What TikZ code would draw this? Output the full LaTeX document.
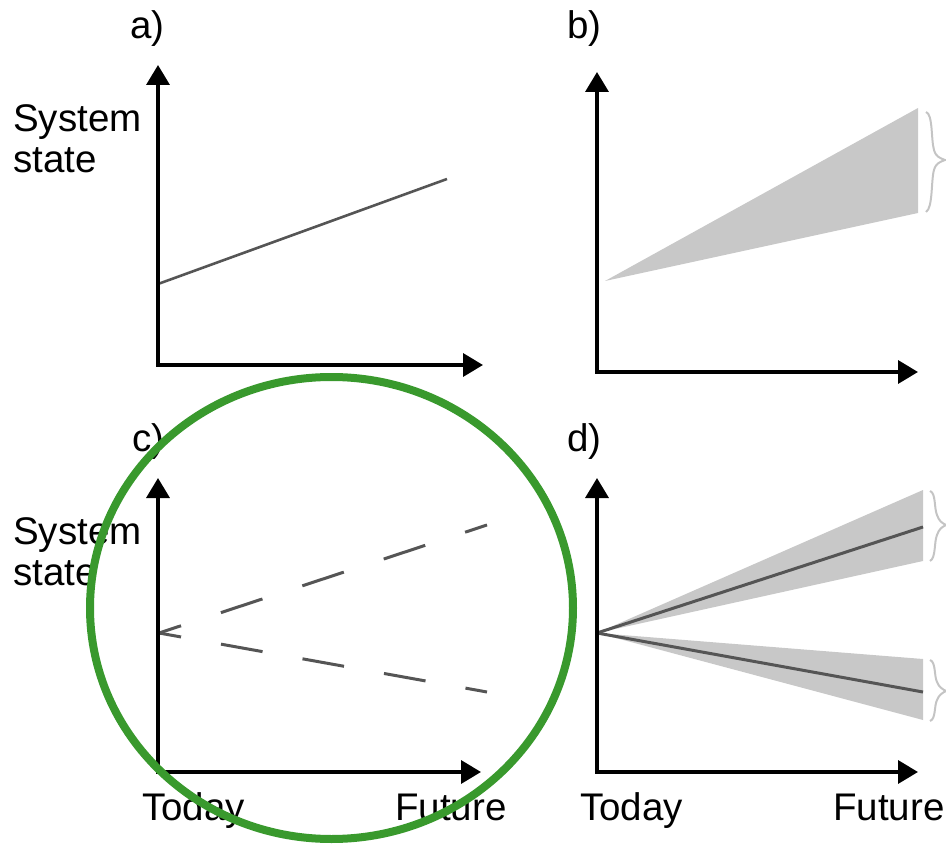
\documentclass[tikz,border=0pt]{standalone}
\usepackage{fontspec}
\setmainfont{Liberation Sans}
\usetikzlibrary{arrows.meta}
\definecolor{linegray}{HTML}{555555}
\definecolor{fillgray}{HTML}{C8C8C8}
\definecolor{bracegray}{HTML}{C4C4C4}
\definecolor{ringgreen}{RGB}{57,153,45}
\tikzset{
  axis/.style={line width=3.5pt, black, line join=miter,
    {Triangle[width=23pt,length=20pt]}-{Triangle[width=23pt,length=20pt]}},
  trend/.style={line width=3pt, linegray},
  dashup/.style={line width=3pt, linegray, dash pattern=on 43.7pt off 42pt, dash phase=20.5pt},
  dashdown/.style={line width=3pt, linegray, dash pattern=on 42.2pt off 40.6pt, dash phase=19.8pt},
  spread/.style={fill=fillgray, draw=none},
  bracestroke/.style={line width=2pt, bracegray},
  lbl/.style={anchor=base west, inner sep=0pt, font=\fontsize{38.5}{44}\selectfont},
  ring/.style={line width=8pt, ringgreen}
}
\begin{document}
\begin{tikzpicture}[x=1pt,y=-1pt]
\useasboundingbox (0,0) rectangle (946,845);
% ---------- panel a ----------
\coordinate (ao) at (158,365);
\coordinate (ay) at (158,65);
\coordinate (ax) at (483,365);
\coordinate (as) at (158,284);
\coordinate (ae) at (447,179);
\draw[trend, line width=2.6pt] (as) -- (ae);
\draw[axis] (ay) -- (ao) -- (ax);
\node[lbl] (alab) at (130,39) {a)};
\node[lbl] (asys1) at (13,132) {System};
\node[lbl] (asys2) at (13,173) {state};
% ---------- panel b ----------
\coordinate (bo) at (597,372);
\coordinate (by) at (597,72);
\coordinate (bx) at (918,372);
\coordinate (bs) at (605,281);
\coordinate (bt) at (918,108);
\coordinate (bb) at (918,213);
\fill[spread] (bs) -- (bt) -- (bb) -- cycle;
\draw[axis] (by) -- (bo) -- (bx);
\draw[bracestroke] (926,112) .. controls (933,114) and (931,140) .. (934,150)
   .. controls (936,157) and (940,158) .. (945,160)
   .. controls (940,162) and (936,163) .. (934,170)
   .. controls (931,180) and (933,208) .. (926,212);
\node[lbl] (blab) at (567,39) {b)};
% ---------- panel c ----------
\coordinate (co) at (158,772);
\coordinate (cy) at (158,478);
\coordinate (cx) at (481,772);
\coordinate (cs) at (159,633);
\coordinate (cu) at (487,525);
\coordinate (cd) at (487,692);
\draw[dashup] (cs) -- (cu);
\draw[dashdown] (cs) -- (cd);
\draw[axis] (cy) -- (co) -- (cx);
\node[lbl] (clab) at (132,451) {c)};
\node[lbl] (csys1) at (13,544) {System};
\node[lbl] (csys2) at (13,585) {state};
\node[lbl] (ctoday) at (142,820) {Today};
\node[lbl] (cfut) at (395,820) {Future};
% ---------- panel d ----------
\coordinate (do) at (597,772);
\coordinate (dy) at (597,478);
\coordinate (dx) at (918,772);
\coordinate (ds) at (597,633);
\coordinate (dut) at (923,490);
\coordinate (dub) at (923,561);
\coordinate (dum) at (923,527);
\coordinate (dlt) at (923,659);
\coordinate (dlb) at (923,720);
\coordinate (dlm) at (923,692);
\fill[spread] (ds) -- (dut) -- (dub) -- cycle;
\fill[spread] (ds) -- (dlt) -- (dlb) -- cycle;
\draw[trend] (ds) -- (dum);
\draw[trend] (ds) -- (dlm);
\draw[axis] (dy) -- (do) -- (dx);
\draw[bracestroke] (930,491) .. controls (936,493) and (934,508) .. (937,515)
   .. controls (939,521) and (942,523) .. (946,525)
   .. controls (942,527) and (939,529) .. (937,535)
   .. controls (934,542) and (936,558) .. (930,561);
\draw[bracestroke] (930,660) .. controls (936,662) and (934,676) .. (937,682)
   .. controls (939,687) and (942,689) .. (946,691)
   .. controls (942,693) and (939,695) .. (937,700)
   .. controls (934,706) and (936,719) .. (930,721);
\node[lbl] (dlab) at (567,451) {d)};
\node[lbl] (dtoday) at (580,820) {Today};
\node[lbl] (dfut) at (833,820) {Future};
% ---------- highlight ring ----------
\draw[ring] (331.5,608) ellipse [x radius=241.5, y radius=231];
\end{tikzpicture}
\end{document}
